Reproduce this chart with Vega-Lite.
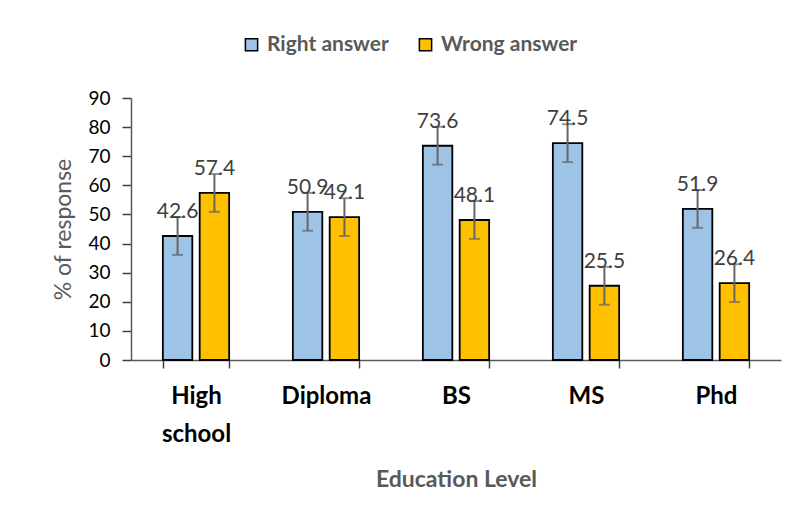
{
  "$schema": "https://vega.github.io/schema/vega-lite/v6.json",
  "width": 650,
  "height": 262,
  "autosize": "none",
  "padding": {"left": 131, "top": 98, "right": 17, "bottom": 160},
  "background": "white",
  "config": {"view": {"stroke": null}, "font": "Lato"},
  "data": {"values": [
    {"level": "High school", "answer": "Right answer", "pct": 42.6, "lo": 36.1, "hi": 49.1},
    {"level": "High school", "answer": "Wrong answer", "pct": 57.4, "lo": 50.9, "hi": 63.9},
    {"level": "Diploma", "answer": "Right answer", "pct": 50.9, "lo": 44.4, "hi": 57.4},
    {"level": "Diploma", "answer": "Wrong answer", "pct": 49.1, "lo": 42.6, "hi": 55.6},
    {"level": "BS", "answer": "Right answer", "pct": 73.6, "lo": 67.1, "hi": 80.1},
    {"level": "BS", "answer": "Wrong answer", "pct": 48.1, "lo": 41.6, "hi": 54.6},
    {"level": "MS", "answer": "Right answer", "pct": 74.5, "lo": 68.0, "hi": 81.0},
    {"level": "MS", "answer": "Wrong answer", "pct": 25.5, "lo": 19.0, "hi": 32.0},
    {"level": "Phd", "answer": "Right answer", "pct": 51.9, "lo": 45.4, "hi": 58.4},
    {"level": "Phd", "answer": "Wrong answer", "pct": 26.4, "lo": 19.9, "hi": 32.9}
  ]},
  "encoding": {
    "x": {
      "field": "level", "type": "nominal", "sort": null,
      "scale": {"paddingInner": 0.49, "paddingOuter": 0.245},
      "axis": {
        "title": "Education Level",
        "labelAngle": 0,
        "labelFontSize": 24, "labelFontWeight": "bold", "labelColor": "#000000",
        "labelPadding": 16, "labelLineHeight": 38, "labelBaseline": "top",
        "labelExpr": "datum.label == 'High school' ? ['High', 'school'] : datum.label",
        "tickBand": "extent", "tickSize": 8, "tickColor": "#404040", "tickWidth": 1.5,
        "domainColor": "#595959", "domainWidth": 1.5,
        "titleFontSize": 23, "titleFontWeight": "bold", "titleColor": "#595959",
        "titlePadding": 22
      }
    },
    "xOffset": {"field": "answer", "type": "nominal", "scale": {"paddingInner": 0.2}},
    "y": {
      "type": "quantitative",
      "scale": {"domain": [0, 90]},
      "axis": {
        "title": "% of response",
        "values": [0, 10, 20, 30, 40, 50, 60, 70, 80, 90],
        "grid": false,
        "labelFontSize": 19, "labelColor": "#000000", "labelPadding": 12,
        "tickSize": 9, "tickColor": "#404040", "tickWidth": 1.5,
        "domainColor": "#595959", "domainWidth": 1.5,
        "titleFontSize": 23, "titleFontWeight": "normal", "titleColor": "#595959",
        "titlePadding": 12
      }
    }
  },
  "layer": [
    {
      "mark": {"type": "bar", "stroke": "#000000", "strokeWidth": 1.8},
      "encoding": {
        "y": {"field": "pct"},
        "color": {
          "field": "answer", "type": "nominal",
          "scale": {"domain": ["Right answer", "Wrong answer"], "range": ["#9DC3E6", "#FFC000"]},
          "legend": {
            "title": null, "orient": "none", "direction": "horizontal",
            "legendX": 110, "legendY": -64,
            "symbolType": "square", "symbolSize": 150, "symbolStrokeColor": "#000000", "symbolStrokeWidth": 1.5,
            "labelFontSize": 21, "labelFontWeight": "bold", "labelColor": "#595959",
            "columnPadding": 26, "labelOffset": 5
          }
        }
      }
    },
    {
      "mark": {"type": "rule", "color": "#666666", "strokeWidth": 2},
      "encoding": {"y": {"field": "lo"}, "y2": {"field": "hi"}}
    },
    {
      "mark": {"type": "tick", "color": "#666666", "thickness": 2, "size": 11},
      "encoding": {"y": {"field": "lo"}}
    },
    {
      "mark": {"type": "tick", "color": "#666666", "thickness": 2, "size": 11},
      "encoding": {"y": {"field": "hi"}}
    },
    {
      "mark": {"type": "text", "fontSize": 21, "color": "#404040", "baseline": "alphabetic", "dy": -18},
      "encoding": {"y": {"field": "pct"}, "text": {"field": "pct", "type": "quantitative", "format": ".1f"}}
    }
  ]
}
